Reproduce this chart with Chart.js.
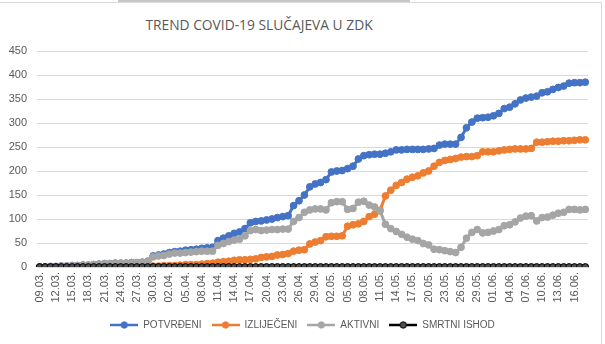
<!DOCTYPE html>
<html>
<head>
<meta charset="utf-8">
<script src="https://cdn.jsdelivr.net/npm/chart.js@4"></script>
<style>
  body { margin: 0; background: #fff; }
  #wrap { position: relative; width: 605px; height: 344px; overflow: hidden; }
  #frame { position: absolute; left: -2px; top: 2px; width: 603px; height: 350px;
           border-top: 1px solid #d9d9d9; border-right: 1px solid #d9d9d9; }
  #tab { position: absolute; left: 118px; top: 0; width: 292px; height: 2px; background: #c6c6c6; }
  #title { position: absolute; left: 0; top: 15px; width: 518px; text-align: center;
           font-family: "Open Sans", "Liberation Sans", sans-serif; font-size: 13.8px; color: #595959; }
  canvas { position: absolute; left: 0; top: 0; }
</style>
</head>
<body>
<div id="wrap">
  <div id="frame"></div>
  <div id="tab"></div>
  <div id="title">TREND COVID-19 SLUČAJEVA U ZDK</div>
  <canvas id="trendChart" width="605" height="344"></canvas>
</div>
<script>
/* ==================== DATA ==================== */

// 09.03. - 18.06., one entry per day
const dates = [];
const monthStarts = [[3, 9, 31], [4, 1, 30], [5, 1, 31], [6, 1, 18]];
monthStarts.forEach(([m, from, to]) => {
    for (let d = from; d <= to; d++) {
        dates.push(String(d).padStart(2, '0') + '.' + String(m).padStart(2, '0') + '.');
    }
});

const potvrdeni = [
    0, 0, 1, 1, 2, 2, 3, 3, 4, 4, 5, 6, 7, 7, 8, 8, 8, 9, 9, 10, 12,
    23, 25, 27, 30, 32, 33, 35, 36, 37, 39, 40, 41,
    55, 60, 65, 70, 73, 80, 92, 95, 96, 98, 100, 103, 105, 107,
    128, 138, 150, 167, 173, 176, 182, 198, 200, 201, 205, 210, 225, 232, 234, 235, 235,
    237, 240, 244, 244, 245, 245, 245, 245, 246, 247, 254, 256, 256, 256,
    270, 290, 302, 310, 311, 312, 315, 320, 330, 333, 340, 348, 352, 354, 356,
    363, 365, 370, 374, 377, 383, 384, 384, 385
];

const izlijeceni = [
    0, 0, 0, 0, 0, 0, 0, 0, 0, 0, 0, 0, 0, 0, 0, 0, 0, 0, 0, 0, 0,
    2, 2, 3, 3, 3, 4, 5, 5, 5, 6, 7, 8,
    10, 11, 12, 14, 15, 15, 16, 17, 20, 21, 22, 25, 26, 28,
    33, 35, 36, 48, 52, 55, 63, 64, 64, 65, 85, 88, 90, 95, 105, 110, 118,
    148, 160, 170, 176, 183, 187, 190, 196, 200, 210, 218, 222, 224, 226,
    229, 230, 230, 232, 240, 240, 240, 242, 244, 245, 246, 246, 246, 247, 260,
    260, 261, 262, 262, 263, 263, 264, 265, 265
];

const aktivni = [
    0, 0, 1, 1, 2, 2, 3, 3, 4, 4, 5, 6, 7, 7, 8, 8, 8, 9, 9, 10, 12,
    21, 23, 24, 27, 29, 29, 30, 31, 32, 33, 33, 33,
    45, 49, 53, 56, 58, 65, 76, 78, 76, 77, 78, 78, 79, 79,
    95, 103, 114, 119, 121, 121, 119, 134, 136, 136, 120, 122, 135, 137, 129, 125, 117,
    89, 80, 74, 68, 62, 58, 55, 49, 46, 37, 36, 34, 32, 30,
    41, 60, 72, 78, 71, 72, 75, 78, 86, 88, 94, 102, 106, 107, 96,
    103, 104, 108, 112, 114, 120, 120, 119, 120
];

const smrtniIshod = dates.map(() => 0);

const seriesNames = ['POTVRĐENI', 'IZLIJEČENI', 'AKTIVNI', 'SMRTNI ISHOD'];
const yTicks = [0, 50, 100, 150, 200, 250, 300, 350, 400, 450];

/* ==================== LEGEND SWATCH ==================== */

function makeSwatch(lineColor, dotFill, dotBorder) {
    const c = document.createElement('canvas');
    c.width = 28;
    c.height = 8;
    const ctx = c.getContext('2d');
    ctx.strokeStyle = lineColor;
    ctx.lineWidth = 2.5;
    ctx.beginPath();
    ctx.moveTo(0, 4);
    ctx.lineTo(28, 4);
    ctx.stroke();
    ctx.fillStyle = dotFill;
    ctx.strokeStyle = dotBorder;
    ctx.lineWidth = 1;
    ctx.beginPath();
    ctx.arc(14, 4, 3.2, 0, Math.PI * 2);
    ctx.fill();
    ctx.stroke();
    return c;
}

/* ==================== CHART ==================== */

const styles = [
    { line: '#4472C4', fill: '#4472C4', border: '#4472C4' },
    { line: '#ED7D31', fill: '#ED7D31', border: '#ED7D31' },
    { line: '#A5A5A5', fill: '#A5A5A5', border: '#A5A5A5' },
    { line: '#000000', fill: '#505050', border: '#000000' }
];
const values = [potvrdeni, izlijeceni, aktivni, smrtniIshod];

const datasets = values.map((data, i) => ({
    label: seriesNames[i],
    data: data,
    borderColor: styles[i].line,
    backgroundColor: styles[i].fill,
    pointBackgroundColor: styles[i].fill,
    pointBorderColor: styles[i].border,
    pointBorderWidth: 1,
    pointRadius: 3.4,
    borderWidth: 3,
    tension: 0,
    fill: false,
    order: 4 - i
}));

const swatches = styles.map(s => makeSwatch(s.line, s.fill, s.border));

new Chart(document.getElementById('trendChart'), {
    type: 'line',
    data: { labels: dates, datasets: datasets },
    options: {
        responsive: false,
        animation: false,
        layout: { padding: { left: 0, right: 0, top: 51, bottom: 4 } },
        plugins: {
            title: { display: false },
            tooltip: { enabled: false },
            legend: {
                position: 'bottom',
                labels: {
                    usePointStyle: true,
                    pointStyleWidth: 28,
                    boxHeight: 8,
                    padding: 10,
                    color: '#595959',
                    font: { family: 'Liberation Sans', size: 10 },
                    sort: (a, b) => a.datasetIndex - b.datasetIndex,
                    generateLabels: chart => seriesNames.map((name, i) => ({
                        text: name,
                        pointStyle: swatches[i],
                        fillStyle: styles[i].line,
                        strokeStyle: styles[i].line,
                        lineWidth: 0,
                        fontColor: '#595959',
                        hidden: false,
                        datasetIndex: i
                    }))
                }
            }
        },
        scales: {
            x: {
                offset: true,
                grid: { display: false, drawTicks: false },
                border: { display: true, color: '#d9d9d9' },
                afterFit: scale => { scale.height = 43; },
                ticks: {
                    autoSkip: false,
                    minRotation: 90,
                    maxRotation: 90,
                    padding: 5,
                    color: '#595959',
                    font: { family: 'Liberation Sans', size: 11 },
                    callback: (val, idx) => idx % 3 === 0 ? dates[idx] : ''
                }
            },
            y: {
                min: yTicks[0],
                max: yTicks[yTicks.length - 1],
                afterFit: scale => { scale.width = 37; },
                afterBuildTicks: scale => { scale.ticks = yTicks.map(v => ({ value: v })); },
                grid: { color: '#d9d9d9', drawTicks: false },
                border: { display: false },
                ticks: {
                    padding: 10,
                    color: '#595959',
                    font: { family: 'Liberation Sans', size: 11 }
                }
            },
            // empty right-hand strip so the legend stays centred on the whole page
            yRight: {
                position: 'right',
                min: yTicks[0],
                max: yTicks[yTicks.length - 1],
                afterFit: scale => { scale.width = 17; },
                grid: { display: false, drawTicks: false },
                border: { display: false },
                ticks: { display: false }
            }
        }
    }
});
</script>
</body>
</html>
